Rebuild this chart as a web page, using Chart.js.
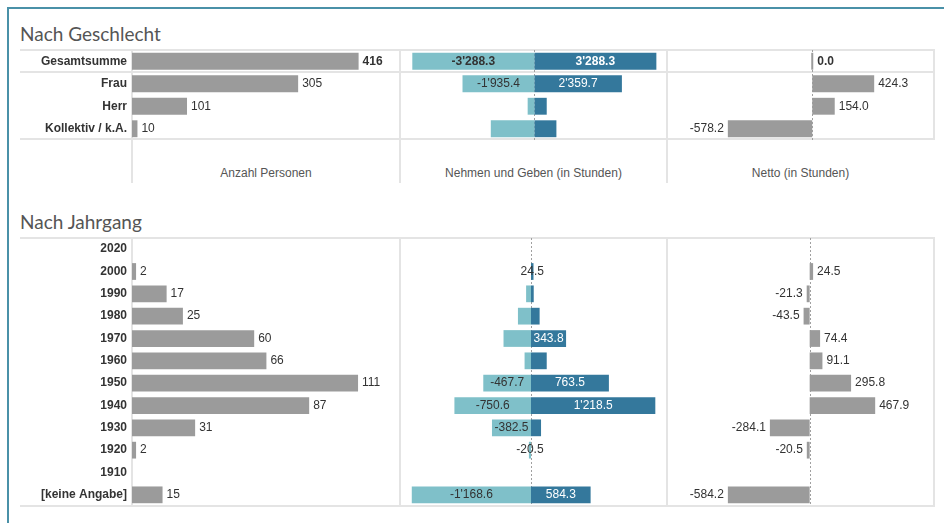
<!DOCTYPE html>
<html lang="de">
<head>
<meta charset="utf-8">
<title>Nehmen und Geben</title>
<script src="https://cdn.jsdelivr.net/npm/chart.js@4.4.0/dist/chart.umd.min.js"></script>
<style>
    html, body { margin: 0; padding: 0; background: #fff; }
    #wrap { position: relative; width: 944px; height: 523px; overflow: hidden; font-family: "Liberation Sans", Arial, sans-serif; }
    .frame { position: absolute; left: 7px; top: 7px; right: -10px; bottom: -10px; border-top: 2px solid #4a91a8; border-left: 2px solid #4a91a8; }
    .title { position: absolute; left: 20px; font-family: Lato, "Open Sans", sans-serif; font-size: 19px; line-height: 20px; color: #555; white-space: nowrap; }
    .hl { position: absolute; height: 0; border-top: 2px solid #e4e4e4; }
    .vl { position: absolute; width: 0; border-left: 2px solid #e4e4e4; }
    .axt { position: absolute; font-size: 12px; line-height: 14px; color: #555; text-align: center; }
    canvas { position: absolute; }
</style>
</head>
<body>
<div id="wrap">
    <div class="frame"></div>

    <!-- Nach Geschlecht -->
    <div class="title" style="top:24px">Nach Geschlecht</div>
    <div class="hl" style="left:20px;top:49px;width:915px"></div>
    <div class="hl" style="left:20px;top:71px;width:915px"></div>
    <div class="hl" style="left:20px;top:138px;width:915px"></div>
    <div class="vl" style="left:131px;top:50px;height:133px"></div>
    <div class="vl" style="left:399px;top:50px;height:133px"></div>
    <div class="vl" style="left:666px;top:50px;height:133px"></div>
    <div class="vl" style="left:933px;top:50px;height:90px"></div>
    <div class="axt" style="left:132px;top:166px;width:268px">Anzahl Personen</div>
    <div class="axt" style="left:400px;top:166px;width:267px">Nehmen und Geben (in Stunden)</div>
    <div class="axt" style="left:667px;top:166px;width:267px">Netto (in Stunden)</div>

    <canvas id="gPersons" width="380" height="90" style="left:20px;top:50px"></canvas>
    <canvas id="gHours" width="267" height="90" style="left:400px;top:50px"></canvas>
    <canvas id="gNet" width="267" height="90" style="left:667px;top:50px"></canvas>

    <!-- Nach Jahrgang -->
    <div class="title" style="top:212px">Nach Jahrgang</div>
    <div class="hl" style="left:20px;top:237px;width:915px"></div>
    <div class="hl" style="left:20px;top:505px;width:915px"></div>
    <div class="vl" style="left:131px;top:238px;height:268px"></div>
    <div class="vl" style="left:399px;top:238px;height:268px"></div>
    <div class="vl" style="left:666px;top:238px;height:268px"></div>
    <div class="vl" style="left:933px;top:238px;height:268px"></div>

    <canvas id="yPersons" width="380" height="268" style="left:20px;top:238px"></canvas>
    <canvas id="yHours" width="267" height="268" style="left:400px;top:238px"></canvas>
    <canvas id="yNet" width="267" height="268" style="left:667px;top:238px"></canvas>
</div>

<script>
// ------- Datos -------
const genderCats = ['Gesamtsumme', 'Frau', 'Herr', 'Kollektiv / k.A.'];
const genderPersons = [416, 305, 101, 10];
const genderTake = [-3288.3, -1935.4, -180.0, -1172.9];
const genderGive = [3288.3, 2359.7, 334.0, 594.6];
const genderNet = [0.0, 424.3, 154.0, -578.2];

const yearCats = ['2020', '2000', '1990', '1980', '1970', '1960', '1950', '1940', '1930', '1920', '1910', '[keine Angabe]'];
const yearPersons = [null, 2, 17, 25, 60, 66, 111, 87, 31, 2, null, 15];
const yearTake = [null, null, -48.0, -128.0, -269.4, -63.0, -467.7, -750.6, -382.5, -20.5, null, -1168.6];
const yearGive = [null, 24.5, 26.7, 84.5, 343.8, 154.1, 763.5, 1218.5, 98.4, null, null, 584.3];
const yearNet = [null, 24.5, -21.3, -43.5, 74.4, 91.1, 295.8, 467.9, -284.1, -20.5, null, -584.2];

// axis ranges (as Tableau fitted them)
const genderPersonsRange = [0, 492];
const genderHoursRange = [-3620, 3575];
const genderNetRange = [-995, 834];
const yearPersonsRange = [0, 131.6];
const yearHoursRange = [-1284, 1333];
const yearNetRange = [-1019, 888];

const GREY = '#9b9b9b';
const TAKE = '#7fc0c9';
const GIVE = '#34789c';
const TEXT = '#333333';
const FONT = '"Liberation Sans", Arial, sans-serif';

// ------- Helpers -------
function fmt(v, dec) {
    const s = Math.abs(v).toFixed(dec);
    const parts = s.split('.');
    parts[0] = parts[0].replace(/\B(?=(\d{3})+(?!\d))/g, "'");
    return (v < 0 ? '-' : '') + parts.join('.');
}

function fontFor(i, opts) {
    return (opts.boldFirst && i === 0 ? 'bold ' : '') + '12px ' + FONT;
}

// dashed line at zero
const zeroLine = {
    id: 'zeroLine',
    beforeDatasetsDraw(chart, args, opts) {
        if (!opts.show) return;
        const x = Math.round(chart.scales.x.getPixelForValue(0)) + 0.5;
        const ctx = chart.ctx;
        ctx.save();
        ctx.strokeStyle = '#a0a0a0';
        ctx.lineWidth = 1;
        ctx.setLineDash([2, 2]);
        ctx.beginPath();
        ctx.moveTo(x, chart.chartArea.top);
        ctx.lineTo(x, chart.chartArea.bottom);
        ctx.stroke();
        ctx.restore();
    }
};

// value labels
const valueLabels = {
    id: 'valueLabels',
    afterDatasetsDraw(chart, args, opts) {
        const ctx = chart.ctx;
        ctx.save();
        ctx.textBaseline = 'middle';
        if (opts.mode === 'split') {
            const ds = chart.data.datasets;
            const metas = [chart.getDatasetMeta(0), chart.getDatasetMeta(1)];
            ds[0].data.forEach((_, i) => {
                [0, 1].forEach(k => {
                    const v = ds[k].data[i];
                    const other = ds[1 - k].data[i];
                    if (v == null || v === 0) return;
                    const el = metas[k].data[i];
                    const txt = fmt(v, 1);
                    ctx.font = fontFor(i, opts);
                    const w = ctx.measureText(txt).width;
                    const barW = Math.abs(el.x - el.base);
                    const cx = (el.x + el.base) / 2;
                    ctx.textAlign = 'center';
                    if (w + 4 <= barW) {
                        ctx.fillStyle = (k === 1) ? '#ffffff' : TEXT;
                    } else if (other == null || other === 0) {
                        ctx.fillStyle = TEXT;
                    } else {
                        return;
                    }
                    ctx.fillText(txt, cx, el.y);
                });
            });
        } else {
            const data = chart.data.datasets[0].data;
            const meta = chart.getDatasetMeta(0);
            data.forEach((v, i) => {
                if (v == null) return;
                const el = meta.data[i];
                ctx.font = fontFor(i, opts);
                ctx.fillStyle = TEXT;
                const txt = fmt(v, opts.decimals);
                if (v >= 0) {
                    ctx.textAlign = 'left';
                    ctx.fillText(txt, Math.max(el.x, el.base) + 4, el.y);
                } else {
                    ctx.textAlign = 'right';
                    ctx.fillText(txt, Math.min(el.x, el.base) - 4, el.y);
                }
            });
        }
        ctx.restore();
    }
};

function baseOptions(range, labelOpts, showZero) {
    return {
        responsive: false,
        animation: false,
        indexAxis: 'y',
        layout: { padding: 0 },
        plugins: {
            legend: { display: false },
            tooltip: { enabled: false },
            zeroLine: { show: showZero },
            valueLabels: labelOpts
        },
        scales: {
            x: { display: false, min: range[0], max: range[1], stacked: true },
            y: { display: false, stacked: true }
        }
    };
}

function barSet(data, color, extra) {
    return Object.assign({
        data,
        backgroundColor: color,
        borderWidth: 0,
        categoryPercentage: 1,
        barPercentage: 0.75
    }, extra || {});
}

function personsChart(id, cats, values, range, boldFirst) {
    const opts = baseOptions(range, { mode: 'single', decimals: 0, boldFirst }, false);
    opts.scales.y = {
        display: true,
        grid: { display: false, drawTicks: false },
        border: { display: false },
        ticks: { color: TEXT, padding: 5, font: { family: FONT, size: 12, weight: 'bold' } },
        afterFit: (s) => {
            // fixed label column, no extra room above/below the rows
            s.width = 112;
            s.paddingTop = 0;
            s.paddingBottom = 0;
        }
    };
    return new Chart(document.getElementById(id), {
        type: 'bar',
        data: { labels: cats, datasets: [barSet(values, GREY)] },
        options: opts,
        plugins: [valueLabels, zeroLine]
    });
}

function hoursChart(id, cats, take, give, range, boldFirst) {
    return new Chart(document.getElementById(id), {
        type: 'bar',
        data: { labels: cats, datasets: [barSet(take, TAKE), barSet(give, GIVE)] },
        options: baseOptions(range, { mode: 'split', boldFirst }, true),
        plugins: [zeroLine, valueLabels]
    });
}

function netChart(id, cats, values, range, boldFirst) {
    return new Chart(document.getElementById(id), {
        type: 'bar',
        data: { labels: cats, datasets: [barSet(values, GREY, { minBarLength: 2 })] },
        options: baseOptions(range, { mode: 'single', decimals: 1, boldFirst }, true),
        plugins: [zeroLine, valueLabels]
    });
}

// ------- Render -------
personsChart('gPersons', genderCats, genderPersons, genderPersonsRange, true);
hoursChart('gHours', genderCats, genderTake, genderGive, genderHoursRange, true);
netChart('gNet', genderCats, genderNet, genderNetRange, true);

personsChart('yPersons', yearCats, yearPersons, yearPersonsRange, false);
hoursChart('yHours', yearCats, yearTake, yearGive, yearHoursRange, false);
netChart('yNet', yearCats, yearNet, yearNetRange, false);
</script>
</body>
</html>
